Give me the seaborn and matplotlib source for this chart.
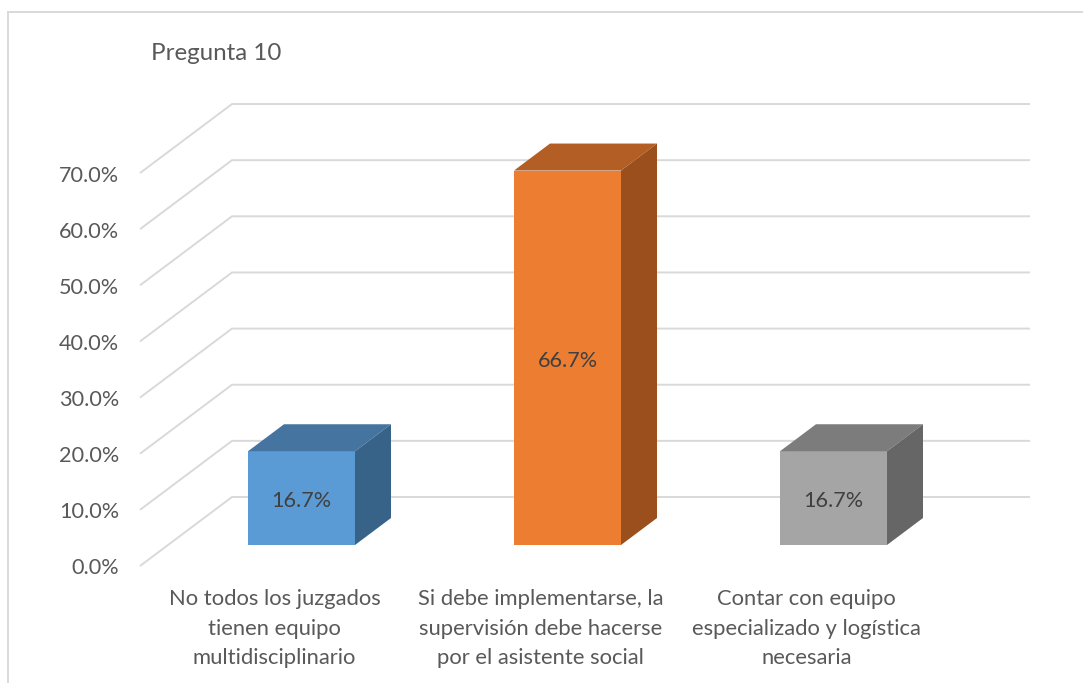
import matplotlib.pyplot as plt
import numpy as np
import seaborn as sns

categories = ['No todos los juzgados\ntienen equipo\nmultidisciplinario',
              'Si debe implementarse, la\nsupervisión debe hacerse\npor el asistente social',
              'Contar con equipo\nespecializado y logística\nnecesaria']
values = [16.7, 66.7, 16.7]
y_ticks = [0, 10, 20, 30, 40, 50, 60, 70]
front_colors = ['#5B9BD5', '#ED7D31', '#A5A5A5']
top_colors = ['#44749F', '#B25E25', '#7C7C7C']
side_colors = ['#386388', '#9A4F1C', '#666666']

W, H = 1083, 683
PX_X = 266.0    # pixels per category
PX_Y = 5.614    # pixels per percent
TEXT = '#595959'
GRID = '#D9D9D9'

sns.set_theme(style='white')
plt.rcParams['font.family'] = ['Lato', 'DejaVu Sans']

fig = plt.figure(figsize=(W / 100, H / 100), dpi=100)
ax = fig.add_axes([168.5 / W, (H - 545) / H, 3 * PX_X / W, 80 * PX_Y / H])

# Front faces of the bars
sns.barplot(x=categories, y=values, hue=categories, palette=front_colors, legend=False,
            width=107 / PX_X, saturation=1, linewidth=0, ax=ax, zorder=3)
ax.set_xlim(-0.5, 2.5)
ax.set_ylim(0, 80)
sns.despine(ax=ax, left=True, bottom=True)
ax.set_yticks([])


def shift(dx_px, dy_px):
    # depth offset in pixels -> data units
    return dx_px / PX_X, dy_px / PX_Y


# Back wall and side wall gridlines
wall_x, wall_y = shift(63.5, 48)
floor_x, floor_y = shift(-28.5, -21)
for t in y_ticks:
    ax.plot([-0.5 + floor_x, -0.5 + wall_x, 2.5 + wall_x],
            [t + floor_y, t + wall_y, t + wall_y],
            color=GRID, lw=1.4, clip_on=False, zorder=1, solid_joinstyle='miter',
            solid_capstyle='butt')
    ax.text(-0.5 + floor_x - 21 / PX_X, t + floor_y - 2.5 / PX_Y, f'{t:.1f}%', ha='right', va='center',
            fontsize=15.6, color=TEXT, clip_on=False)

# Top and side faces of the bars
half = 53.5 / PX_X
depth_x, depth_y = shift(36, 27)
for i, v in enumerate(values):
    l, r = i - half, i + half
    ax.fill([l, r, r + depth_x, l + depth_x], [v, v, v + depth_y, v + depth_y],
            color=top_colors[i], lw=0, clip_on=False, zorder=3)
    ax.fill([r, r + depth_x, r + depth_x, r], [0, depth_y, v + depth_y, v],
            color=side_colors[i], lw=0, clip_on=False, zorder=3)
    ax.text(i, v / 2 - 3 / PX_Y, f'{v:.1f}%', ha='center', va='center', fontsize=15.6,
            color='#404040', zorder=4)

# Category labels sit under the front of the floor
ax.set_xticks(np.arange(len(categories)) - 27 / PX_X)
ax.set_xticklabels(categories, fontsize=15.8, color=TEXT, linespacing=1.57)
ax.tick_params(axis='x', length=0, pad=32)
ax.set_xlabel('')

fig.text(151 / W, 1 - 54 / H, 'Pregunta 10', fontsize=17.4, color=TEXT, ha='left', va='center')

# Chart frame, only the left and top edges are in the crop
fig.add_artist(plt.Line2D([8 / W, 8 / W, 1], [0, 1 - 12 / H, 1 - 12 / H],
                          color=GRID, lw=1.4, solid_joinstyle='miter'))

fig.savefig('out.png', dpi=100)
